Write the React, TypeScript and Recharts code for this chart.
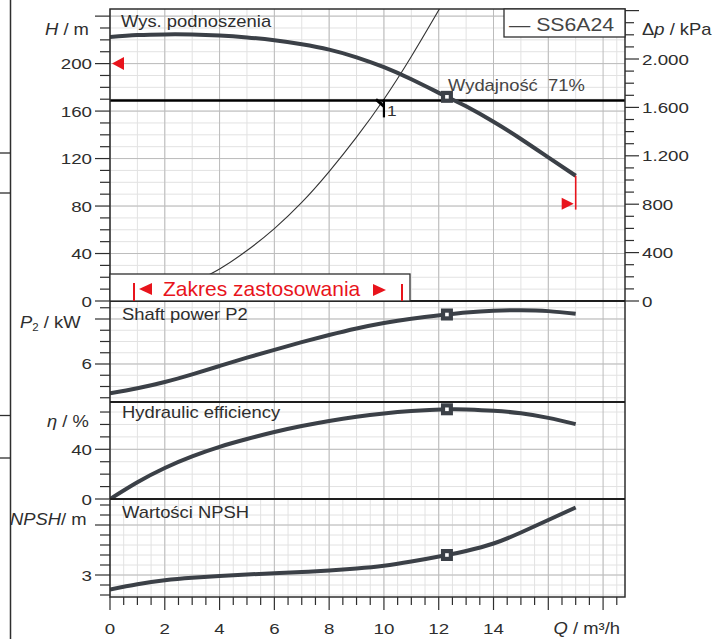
import {
  LineChart,
  Line,
  XAxis,
  YAxis,
  CartesianGrid,
  ReferenceLine,
  ReferenceDot,
} from "recharts";

const FONT = '"Liberation Sans", Arial, sans-serif';
const INK = "#2e2e2e";
const CURVE = "#3b4047";
const RED = "#e8141c";

// flow points [m³/h] shared by the pump curves
const qPoints = [0, 1, 2, 3, 4, 5, 6, 7, 8, 9, 10, 11, 12.3, 13, 14, 15, 16, 17];
const headValues = [222.5, 224, 224.6, 224.5, 223.6, 222, 219.7, 216.3, 211.8, 205.3, 197, 186.8, 172, 164, 151, 136.5, 121, 105.5];
const powerValues = [4.7, 4.92, 5.2, 5.54, 5.91, 6.28, 6.63, 6.97, 7.29, 7.58, 7.82, 8.01, 8.2, 8.29, 8.37, 8.39, 8.35, 8.23];
const effValues = [0, 13.5, 25, 34.3, 42, 48.3, 53.9, 58.7, 62.8, 66.2, 68.9, 70.8, 72.2, 72.1, 71, 69, 65.3, 60.3];
const npshValues = [2.71, 2.815, 2.895, 2.945, 2.98, 3.01, 3.035, 3.06, 3.09, 3.13, 3.185, 3.27, 3.4, 3.48, 3.63, 3.85, 4.1, 4.35];

// system curve
const systemQ = [3, 4, 5, 6, 7, 8, 9, 10, 11, 12.1];
const systemH = [15, 27, 42.5, 61, 83, 109, 138, 170, 206, 249];

// duty point and limits
const dutyQ = 12.3;
const dutyH = 172;
const dutyP = 8.2;
const dutyEta = 72.2;
const dutyNpsh = 3.4;
const requiredHead = 169;
const crossQ = 10;
const maxHeadMark = 200;
const endQ = 17;
const endHead = 105.5;
const endMark = 82;
const endLineLow = 77;

// tick labels
const xLabels = [0, 2, 4, 6, 8, 10, 12, 14];
const hLabels = [0, 40, 80, 120, 160, 200];
const dpLabels = [0, 400, 800, 1200, 1600, 2000];
const pLabels = [6];
const etaLabels = [0, 40];
const npshLabels = [3];

const W = 723;
const PL = 110;
const PR = 625;
const RW = W - PR;
const X_MAX = 18.8;
const H_MAX = 246;

const range = (a: number, b: number, step: number) => {
  const out: number[] = [];
  for (let v = a; v <= b + 1e-9; v += step) out.push(Math.round(v * 100) / 100);
  return out;
};
const mult = (v: number, m: number) => Math.abs(v / m - Math.round(v / m)) < 1e-6;

const xTicks = range(0, 18.5, 0.5);
const xMajor = range(0, 18, 2);
const hTicks = range(0, 240, 10);
const dpTicks = range(0, 2400, 100);
const pTicks = range(4.5, 8.5, 0.5);
const etaTicks = range(0, 70, 10);
const npshTicks = range(2.6, 4.4, 0.2);

const toData = (qs: number[], vs: number[]) => qs.map((q, i) => ({ q, v: vs[i] }));

const fmtKpa = (v: number) =>
  v >= 1000 ? `${Math.floor(v / 1000)}.${String(v % 1000).padStart(3, "0")}` : String(v);

function leftTick(labels: number[], major: number, fmt: (v: number) => string = String) {
  return (props: any) => {
    const { x, y, payload } = props;
    const v = payload.value;
    return (
      <g>
        <line x1={x - (mult(v, major) ? 15 : 10)} x2={x} y1={y} y2={y} stroke={INK} strokeWidth={1.2} />
        {labels.includes(v) && (
          <text
            transform={`translate(${x - 18},${y + 5.5}) scale(1.25,1)`}
            textAnchor="end"
            fontSize={15}
            fill={INK}
            fontFamily={FONT}
          >
            {fmt(v)}
          </text>
        )}
      </g>
    );
  };
}

const rightTick = (props: any) => {
  const { x, y, payload } = props;
  const v = payload.value;
  return (
    <g>
      <line x1={x} x2={x + (mult(v, 400) ? 14 : 9)} y1={y} y2={y} stroke={INK} strokeWidth={1.2} />
      {dpLabels.includes(v) && (
        <text
          transform={`translate(${x + 17},${y + 5.5}) scale(1.25,1)`}
          fontSize={15}
          fill={INK}
          fontFamily={FONT}
        >
          {fmtKpa(v)}
        </text>
      )}
    </g>
  );
};

const bottomTick = (props: any) => {
  const { x, y, payload } = props;
  const v = payload.value;
  return (
    <g>
      <line x1={x} x2={x} y1={y} y2={y + (mult(v, 2) ? 13 : 8)} stroke={INK} strokeWidth={1.2} />
      {xLabels.includes(v) && (
        <text
          transform={`translate(${x},${y + 37}) scale(1.25,1)`}
          textAnchor="middle"
          fontSize={15}
          fill={INK}
          fontFamily={FONT}
        >
          {v}
        </text>
      )}
    </g>
  );
};

const dutyBox = (props: any) => (
  <g>
    <rect x={props.cx - 6} y={props.cy - 6} width={12} height={12} fill={CURVE} />
    <rect x={props.cx - 1.8} y={props.cy - 1.8} width={3.6} height={3.6} fill="#fff" />
  </g>
);

const crossMark = (props: any) => {
  const { cx, cy } = props;
  return (
    <g>
      <path d={`M${cx - 8},${cy - 1} L${cx},${cy + 6}`} stroke="#000" strokeWidth={3} />
      <line x1={cx} x2={cx} y1={cy - 1} y2={cy + 17} stroke="#000" strokeWidth={2.2} />
      <text transform={`translate(${cx + 3},${cy + 16}) scale(1.15,1)`} fontSize={15} fill={INK} fontFamily={FONT}>
        1
      </text>
    </g>
  );
};

const leftLimit = (props: any) => {
  const { cx, cy } = props;
  return <polygon points={`${cx + 2},${cy} ${cx + 14},${cy - 6.5} ${cx + 14},${cy + 6.5}`} fill={RED} />;
};

const rightLimit = (props: any) => {
  const { cx, cy } = props;
  return <polygon points={`${cx - 2},${cy} ${cx - 14},${cy - 6} ${cx - 14},${cy + 6}`} fill={RED} />;
};

function Grid({ minor, major }: { minor: number[]; major: number[] }) {
  return (
    <>
      <CartesianGrid stroke="#e2e2e2" strokeWidth={1} verticalValues={xTicks} horizontalValues={minor} />
      <CartesianGrid stroke="#bcbcbc" strokeWidth={1} verticalValues={xMajor} horizontalValues={major} />
    </>
  );
}

function Label({ x, y, size = 16, sx = 1.15, anchor = "start", color = INK, children }: any) {
  return (
    <text
      transform={`translate(${x},${y}) scale(${sx},1)`}
      fontSize={size}
      fill={color}
      textAnchor={anchor}
      fontFamily={FONT}
    >
      {children}
    </text>
  );
}

const hidX = <XAxis type="number" dataKey="q" domain={[0, X_MAX]} allowDataOverflow hide />;

export default function App() {
  const headData = toData(qPoints, headValues);
  const powerData = toData(qPoints, powerValues);
  const effData = toData(qPoints, effValues);
  const npshData = toData(qPoints, npshValues);
  const systemData = toData(systemQ, systemH);

  const yCommon = {
    type: "number" as const,
    interval: 0 as const,
    tickLine: false,
    axisLine: false,
    tickSize: 0,
    tickMargin: 0,
    width: PL,
    allowDataOverflow: true,
  };
  const curve = {
    dataKey: "v",
    type: "natural" as const,
    stroke: CURVE,
    strokeWidth: 4,
    dot: false,
    isAnimationActive: false,
  };

  return (
    <div style={{ position: "absolute", left: 0, top: 0, width: W, height: 639, background: "#fff", fontFamily: FONT }}>
      {/* head */}
      <div style={{ position: "absolute", left: 0, top: 0 }}>
        <LineChart width={W} height={313} margin={{ top: 9, right: 0, bottom: 12, left: 0 }}>
          {hidX}
          <YAxis {...yCommon} domain={[0, H_MAX]} ticks={hTicks} tick={leftTick(hLabels, 40)} />
          <YAxis
            {...yCommon}
            yAxisId="dp"
            orientation="right"
            width={RW}
            domain={[0, H_MAX * 9.81]}
            ticks={dpTicks}
            tick={rightTick}
          />
          <Grid minor={hTicks} major={range(0, 240, 40)} />
          <Line data={systemData} dataKey="v" type="natural" stroke="#333" strokeWidth={1.1} dot={false} isAnimationActive={false} />
          <ReferenceLine y={requiredHead} stroke="#000" strokeWidth={2.5} />
          <Line {...curve} data={headData} />
          <ReferenceLine segment={[{ x: endQ, y: endHead }, { x: endQ, y: endLineLow }]} stroke={RED} strokeWidth={1.6} />
          <ReferenceDot x={endQ} y={endMark} r={6} shape={rightLimit} />
          <ReferenceDot x={0} y={maxHeadMark} r={6} shape={leftLimit} />
          <ReferenceDot x={crossQ} y={requiredHead} r={6} shape={crossMark} />
          <ReferenceDot x={dutyQ} y={dutyH} r={6} shape={dutyBox} />
        </LineChart>
      </div>
      {/* shaft power */}
      <div style={{ position: "absolute", left: 0, top: 289 }}>
        <LineChart width={W} height={125} margin={{ top: 12, right: RW, bottom: 12, left: 0 }}>
          {hidX}
          <YAxis {...yCommon} domain={[4.311, 8.8]} ticks={pTicks} tick={leftTick(pLabels, 2)} />
          <Grid minor={pTicks} major={[6, 8]} />
          <Line {...curve} data={powerData} />
          <ReferenceDot x={dutyQ} y={dutyP} r={6} shape={dutyBox} />
        </LineChart>
      </div>
      {/* efficiency */}
      <div style={{ position: "absolute", left: 0, top: 390 }}>
        <LineChart width={W} height={121} margin={{ top: 12, right: RW, bottom: 12, left: 0 }}>
          {hidX}
          <YAxis {...yCommon} domain={[0, 78.07]} ticks={etaTicks} tick={leftTick(etaLabels, 40)} />
          <Grid minor={etaTicks} major={[0, 40]} />
          <Line {...curve} data={effData} />
          <ReferenceDot x={dutyQ} y={dutyEta} r={6} shape={dutyBox} />
        </LineChart>
      </div>
      {/* NPSH */}
      <div style={{ position: "absolute", left: 0, top: 487 }}>
        <LineChart width={W} height={152} margin={{ top: 12, right: RW, bottom: 0, left: 0 }}>
          <XAxis
            type="number"
            dataKey="q"
            domain={[0, X_MAX]}
            allowDataOverflow
            ticks={xTicks}
            interval={0}
            tick={bottomTick}
            tickLine={false}
            axisLine={false}
            tickSize={0}
            tickMargin={0}
            height={42}
          />
          <YAxis {...yCommon} domain={[2.56, 4.52]} ticks={npshTicks} tick={leftTick(npshLabels, 1)} />
          <Grid minor={npshTicks} major={[3, 4]} />
          <Line {...curve} data={npshData} />
          <ReferenceDot x={dutyQ} y={dutyNpsh} r={6} shape={dutyBox} />
        </LineChart>
      </div>

      <svg width={W} height={639} style={{ position: "absolute", left: 0, top: 0, pointerEvents: "none" }}>
        {/* page edge */}
        <line x1={10.5} x2={10.5} y1={0} y2={639} stroke={INK} strokeWidth={1.5} />
        {[153, 193, 415.5, 458].map((y) => (
          <line key={y} x1={0} x2={10.5} y1={y} y2={y} stroke={INK} strokeWidth={1.3} />
        ))}

        {/* frame and separators */}
        <rect x={PL} y={9} width={PR - PL} height={588} fill="none" stroke={INK} strokeWidth={1.5} />
        {[301, 402, 499].map((y) => (
          <line key={y} x1={PL} x2={PR} y1={y} y2={y} stroke="#1e1e1e" strokeWidth={1.8} />
        ))}

        {/* legend */}
        <rect x={504} y={9} width={PR - 504} height={28} fill="#fff" stroke={INK} strokeWidth={1.3} />
        <Label x={509} y={31} size={19} sx={1.12} color="#444">
          — SS6A24
        </Label>

        {/* application range */}
        <rect x={PL} y={274} width={300} height={27} fill="#fff" stroke={INK} strokeWidth={1.3} />
        <line x1={134} x2={134} y1={283} y2={301} stroke={RED} strokeWidth={2} />
        <line x1={402} x2={402} y1={284} y2={301} stroke={RED} strokeWidth={2} />
        <polygon points="139,289 152,283 152,295" fill={RED} />
        <polygon points="386,290 373,284 373,296" fill={RED} />
        <Label x={163} y={295.5} size={21} sx={1.0} color={RED}>
          Zakres zastosowania
        </Label>

        {/* panel titles */}
        <Label x={121} y={26.5}>Wys. podnoszenia</Label>
        <Label x={448} y={91} color="#454545">{"Wydajność\u00a0 71%"}</Label>
        <Label x={122} y={320}>Shaft power P2</Label>
        <Label x={122} y={417.5}>Hydraulic efficiency</Label>
        <Label x={122} y={517.5}>Wartości NPSH</Label>

        {/* axis titles */}
        <Label x={45} y={35}>
          <tspan fontStyle="italic">H</tspan> / m
        </Label>
        <Label x={642} y={35}>
          Δ<tspan fontStyle="italic">p</tspan> / kPa
        </Label>
        <Label x={20} y={328}>
          <tspan fontStyle="italic">P</tspan>
          <tspan fontSize={10} dy={3}>2</tspan>
          <tspan dy={-3}> / kW</tspan>
        </Label>
        <Label x={47} y={427}>
          <tspan fontStyle="italic">η</tspan> / %
        </Label>
        <Label x={10} y={525}>
          <tspan fontStyle="italic">NPSH</tspan>/ m
        </Label>
        <Label x={620} y={634} anchor="end">
          <tspan fontStyle="italic">Q</tspan> / m³/h
        </Label>
      </svg>
    </div>
  );
}
